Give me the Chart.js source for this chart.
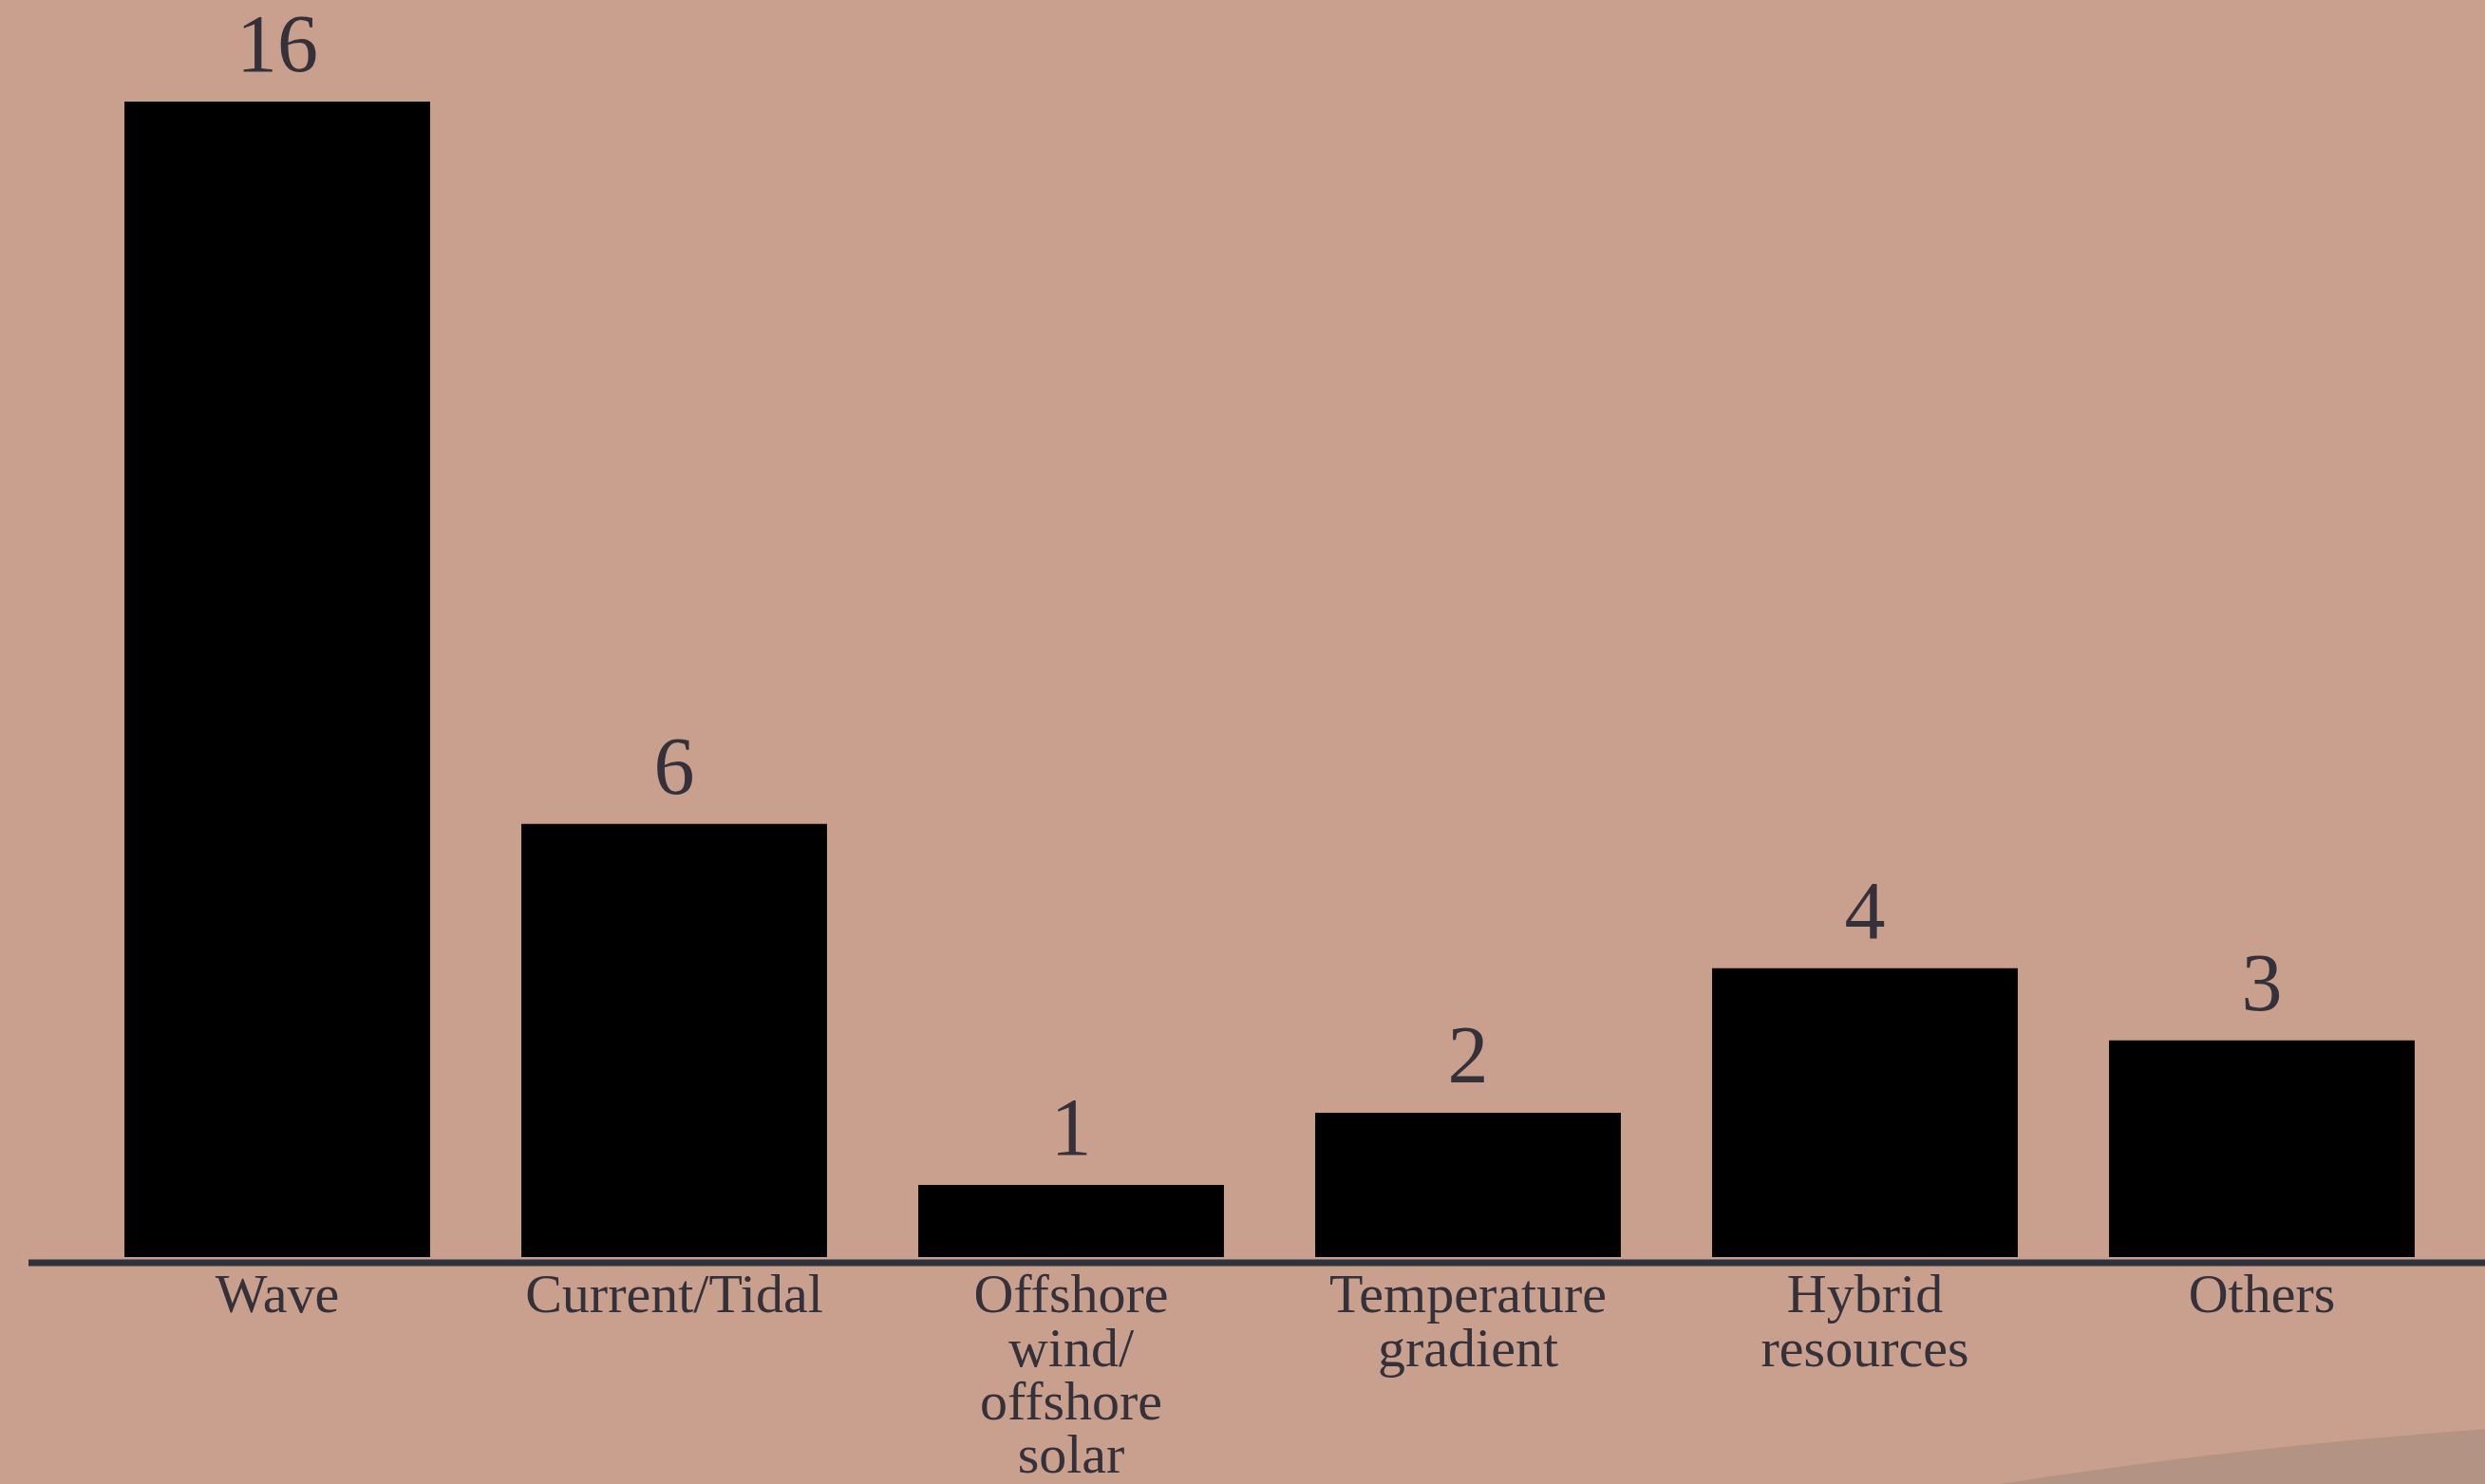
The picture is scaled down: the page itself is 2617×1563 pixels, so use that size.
<!DOCTYPE html>
<html>
<head>
<meta charset="utf-8">
<title>Projects by resource type</title>
<script src="https://cdn.jsdelivr.net/npm/chart.js@4.4.0/dist/chart.umd.min.js"></script>
<style>
  html, body { margin: 0; padding: 0; background: #c99f8e; }
  #wrap { width: 2617px; height: 1563px; position: relative; }
</style>
</head>
<body>
<div id="wrap"><canvas id="resourceChart"></canvas></div>
<script>
// Number of projects per resource type
const categories = [
    'Wave',
    'Current/Tidal',
    ['Offshore', 'wind/', 'offshore', 'solar'],
    ['Temperature', 'gradient'],
    ['Hybrid', 'resources'],
    'Others'
];
const projectCounts = [16, 6, 1, 2, 4, 3];

const TEXT_COLOR = '#35313a';
const SERIF = "'Liberation Serif', 'DejaVu Serif', serif";

// background fill plus the soft swoosh in the lower right corner
const backdrop = {
    id: 'backdrop',
    beforeDraw(chart) {
        const { ctx, width, height } = chart;
        ctx.save();
        ctx.fillStyle = '#c99f8e';
        ctx.fillRect(0, 0, width, height);
        ctx.fillStyle = '#b39384';
        ctx.beginPath();
        ctx.moveTo(width * 0.805, height);
        ctx.quadraticCurveTo(width * 0.9, height * 0.975, width, height * 0.963);
        ctx.lineTo(width, height);
        ctx.closePath();
        ctx.fill();
        ctx.restore();
    }
};

// baseline that runs past the plot area, and value labels over each bar
const baselineAndValues = {
    id: 'baselineAndValues',
    afterDatasetsDraw(chart) {
        const { ctx, width } = chart;
        const y0 = chart.scales.y.getPixelForValue(0);
        ctx.save();
        ctx.strokeStyle = '#2f333d';
        ctx.lineWidth = 7;
        ctx.beginPath();
        ctx.moveTo(30, y0 + 6);
        ctx.lineTo(width, y0 + 6);
        ctx.stroke();

        ctx.fillStyle = TEXT_COLOR;
        ctx.font = '86px ' + SERIF;
        ctx.textAlign = 'center';
        ctx.textBaseline = 'alphabetic';
        chart.getDatasetMeta(0).data.forEach((bar, i) => {
            ctx.fillText(String(projectCounts[i]), bar.x, bar.y - 32);
        });
        ctx.restore();
    }
};

const ctx = document.getElementById('resourceChart');
new Chart(ctx, {
    type: 'bar',
    data: {
        labels: categories,
        datasets: [{
            data: projectCounts,
            backgroundColor: '#000000',
            borderWidth: 0,
            barPercentage: 0.77,
            categoryPercentage: 1.0
        }]
    },
    options: {
        responsive: true,
        maintainAspectRatio: false,
        animation: false,
        layout: {
            padding: { left: 83, right: 26, top: 107, bottom: 0 }
        },
        plugins: {
            legend: { display: false },
            tooltip: { enabled: false },
            title: { display: false }
        },
        scales: {
            x: {
                border: { display: false },
                grid: { display: false, drawTicks: false },
                ticks: {
                    color: TEXT_COLOR,
                    padding: 15,
                    maxRotation: 0,
                    autoSkip: false,
                    font: { family: SERIF, size: 58, lineHeight: 0.97 }
                },
                afterFit(scale) {
                    scale.height = 239;
                }
            },
            y: {
                display: false,
                min: 0,
                max: 16
            }
        }
    },
    plugins: [backdrop, baselineAndValues]
});
</script>
</body>
</html>
